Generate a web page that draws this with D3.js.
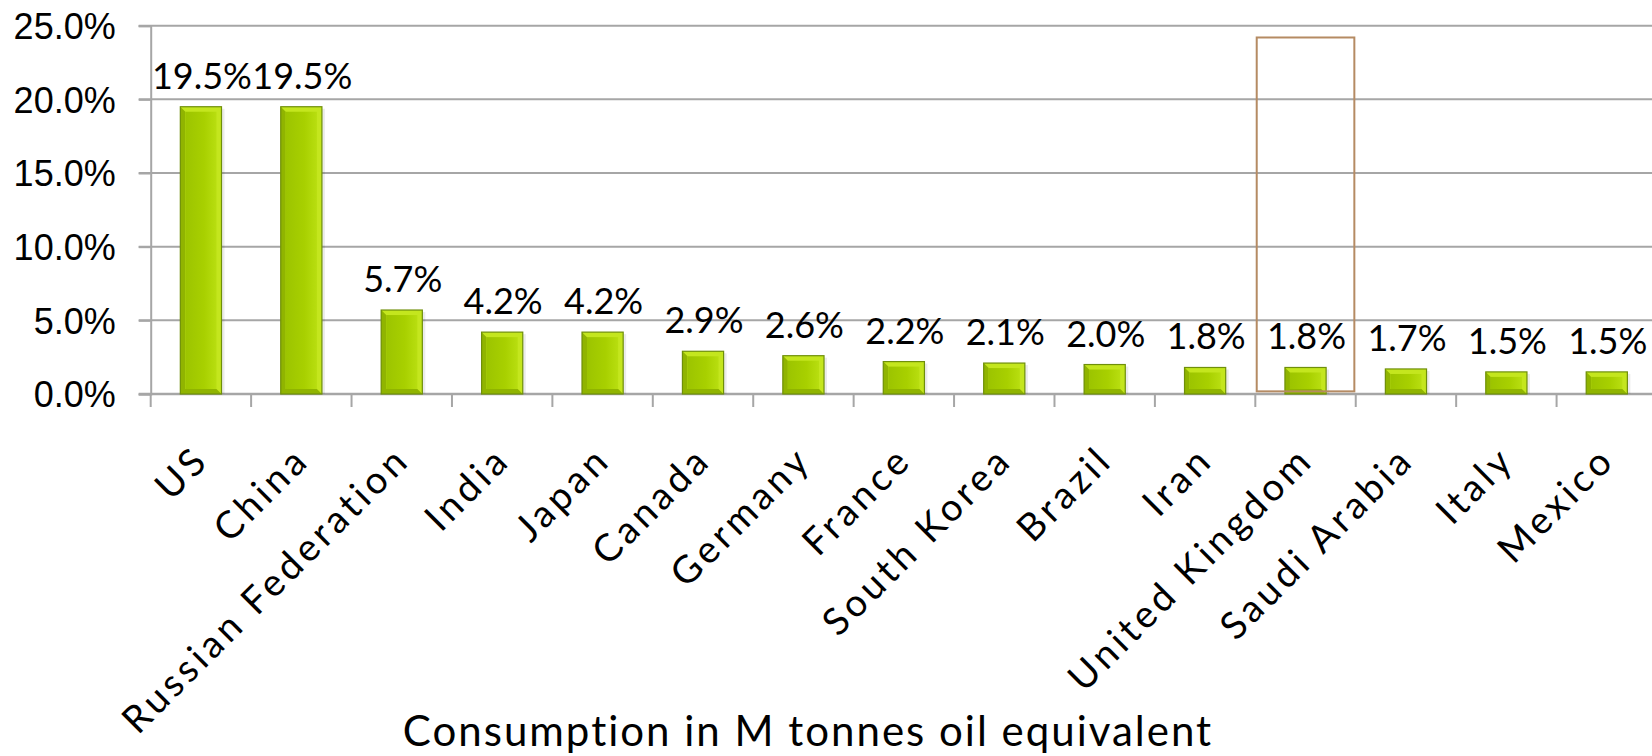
<!DOCTYPE html>
<html>
<head>
<meta charset="utf-8">
<script src="https://cdn.jsdelivr.net/npm/d3@7"></script>
<style>
  body { margin: 0; background: #fff; }
  svg { display: block; font-family: Lato, "Open Sans", sans-serif; }
</style>
</head>
<body>
<svg id="chart" width="1652" height="756"></svg>
<script>
// data
const countries = ["US", "China", "Russian Federation", "India", "Japan", "Canada", "Germany",
  "France", "South Korea", "Brazil", "Iran", "United Kingdom", "Saudi Arabia", "Italy", "Mexico"];
const shares = [0.195, 0.195, 0.057, 0.042, 0.042, 0.029, 0.026, 0.022, 0.021, 0.020, 0.018, 0.018, 0.017, 0.015, 0.015];
const yTicks = [0, 0.05, 0.10, 0.15, 0.20, 0.25];
const highlighted = "United Kingdom";
const axisTitle = "Consumption in M tonnes oil equivalent";

const MARGIN = { top: 25.7, left: 150.7, bottom: 394, right: 1657 };

const svg = d3.select("#chart");
const fmt = d3.format(".1%");

const x = d3.scaleBand()
  .domain(countries)
  .range([MARGIN.left, MARGIN.right])
  .paddingInner(0.59)
  .paddingOuter(0.295);

const y = d3.scaleLinear()
  .domain([0, 0.25])
  .range([MARGIN.bottom, MARGIN.top]);

const step = x.step();
const bw = x.bandwidth();

// gradient for the bars
const defs = svg.append("defs");
const grad = defs.append("linearGradient").attr("id", "barGrad")
  .attr("x1", "0").attr("x2", "1").attr("y1", "0").attr("y2", "0");
grad.append("stop").attr("offset", "0%").attr("stop-color", "#9cc400");
grad.append("stop").attr("offset", "60%").attr("stop-color", "#a8d000");
grad.append("stop").attr("offset", "100%").attr("stop-color", "#b8de10");

// grid lines
svg.append("g")
  .selectAll("line")
  .data(yTicks.slice(1))
  .join("line")
  .attr("x1", MARGIN.left - 12)
  .attr("x2", 1652)
  .attr("y1", d => y(d))
  .attr("y2", d => y(d))
  .attr("stroke", "#a6a6a6")
  .attr("stroke-width", 2);

// y axis
const yAxis = svg.append("g")
  .attr("transform", "translate(" + MARGIN.left + ",0)")
  .call(d3.axisLeft(y).tickValues(yTicks).tickFormat(fmt).tickSize(12).tickPadding(23));
yAxis.select(".domain").attr("stroke", "#a6a6a6").attr("stroke-width", 2);
yAxis.selectAll(".tick line").attr("stroke", "#a6a6a6").attr("stroke-width", 2);
yAxis.selectAll(".tick text")
  .attr("font-size", 36)
  .attr("fill", "#000")
  .attr("dy", "0.36em");

// x axis line + boundary ticks
svg.append("line")
  .attr("x1", MARGIN.left - 12).attr("x2", 1652)
  .attr("y1", y(0)).attr("y2", y(0))
  .attr("stroke", "#a6a6a6").attr("stroke-width", 2.5);

const bounds = countries.map(c => x(c) + bw / 2 - step / 2);
svg.append("g")
  .selectAll("line")
  .data(bounds)
  .join("line")
  .attr("x1", d => d).attr("x2", d => d)
  .attr("y1", y(0)).attr("y2", y(0) + 13)
  .attr("stroke", "#a6a6a6").attr("stroke-width", 2);

// bars with bevel
const bars = svg.append("g")
  .selectAll("g")
  .data(countries.map((c, i) => ({ c, v: shares[i] })))
  .join("g");

bars.append("rect")
  .attr("x", d => x(d.c) + 3)
  .attr("y", d => y(d.v) + 2)
  .attr("width", bw)
  .attr("height", d => y(0) - y(d.v) - 2)
  .attr("fill", "#000")
  .attr("opacity", 0.08);

bars.append("rect")
  .attr("x", d => x(d.c))
  .attr("y", d => y(d.v))
  .attr("width", bw)
  .attr("height", d => y(0) - y(d.v))
  .attr("fill", "#c4e61e");

// darker bottom / left bevel
bars.append("path")
  .attr("d", d => {
    const x0 = x(d.c), x1 = x0 + bw, y0 = y(d.v), y1 = y(0), b = 5;
    return "M" + x0 + "," + y0 + "L" + (x0 + b) + "," + (y0 + b) + "L" + (x0 + b) + "," + (y1 - b) +
      "L" + (x1 - b) + "," + (y1 - b) + "L" + x1 + "," + y1 + "L" + x0 + "," + y1 + "Z";
  })
  .attr("fill", "#90b400");

bars.append("rect")
  .attr("x", d => x(d.c) + 5)
  .attr("y", d => y(d.v) + 5)
  .attr("width", bw - 10)
  .attr("height", d => Math.max(0, y(0) - y(d.v) - 10))
  .attr("fill", "url(#barGrad)");

bars.append("rect")
  .attr("x", d => x(d.c))
  .attr("y", d => y(d.v))
  .attr("width", bw)
  .attr("height", d => y(0) - y(d.v))
  .attr("fill", "none")
  .attr("stroke", "#6f8f0a")
  .attr("stroke-width", 1.2);

// data labels
svg.append("g")
  .selectAll("text")
  .data(countries.map((c, i) => ({ c, v: shares[i] })))
  .join("text")
  .attr("x", d => x(d.c) + bw / 2 + 1)
  .attr("y", d => y(d.v) - 18)
  .attr("text-anchor", "middle")
  .attr("font-size", 36)
  .attr("fill", "#000")
  .text(d => fmt(d.v));

// highlight box around one category
svg.append("rect")
  .attr("x", x(highlighted) + bw / 2 - step / 2 + 1.4)
  .attr("y", y(0.242))
  .attr("width", step - 2.8)
  .attr("height", y(0.0018) - y(0.242))
  .attr("fill", "none")
  .attr("stroke", "#b58b63")
  .attr("stroke-width", 2);

// category labels
svg.append("g")
  .selectAll("text")
  .data(countries)
  .join("text")
  .attr("transform", d => "translate(" + (x(d) + bw / 2 + 10) + "," + (y(0) + 68) + ") rotate(-45)")
  .attr("text-anchor", "end")
  .attr("font-size", 38)
  .attr("letter-spacing", 4)
  .attr("fill", "#000")
  .text(d => d);

// axis title
svg.append("text")
  .attr("x", 808)
  .attr("y", 746)
  .attr("text-anchor", "middle")
  .attr("font-size", 42)
  .attr("letter-spacing", 2)
  .attr("fill", "#000")
  .text(axisTitle);
</script>
</body>
</html>
